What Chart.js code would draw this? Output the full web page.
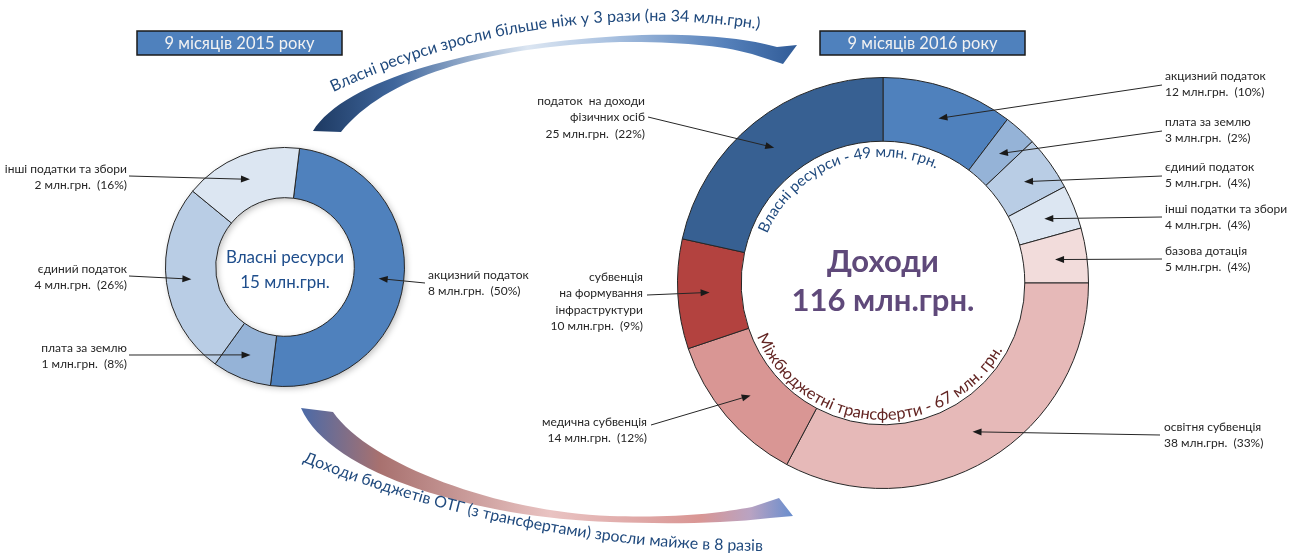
<!DOCTYPE html>
<html>
<head>
<meta charset="utf-8">
<script src="https://cdn.jsdelivr.net/npm/chart.js@4.4.0/dist/chart.umd.min.js"></script>
<style>
    body { margin: 0; background: #fff; }
    #wrap { position: relative; width: 1293px; height: 556px; }
    #wrap canvas { position: absolute; left: 0; top: 0; }
</style>
</head>
<body>
<div id="wrap">
    <canvas id="chart-2015" width="1293" height="556"></canvas>
    <canvas id="chart-2016" width="1293" height="556"></canvas>
</div>
<script>
// Data
const periods = ['9 місяців 2015 року', '9 місяців 2016 року'];

const categories2015 = ['акцизний податок', 'плата за землю', 'єдиний податок', 'інші податки та збори'];
const amounts2015 = [8, 1, 4, 2];
const shares2015 = [50, 8, 26, 16];
const ownResources2015 = 15;

const categories2016 = [
    'акцизний податок', 'плата за землю', 'єдиний податок', 'інші податки та збори',
    'базова дотація', 'освітня субвенція', 'медична субвенція',
    'субвенція\nна формування\nінфраструктури', 'податок  на доходи\nфізичних осіб'
];
const amounts2016 = [12, 3, 5, 4, 5, 38, 14, 10, 25];
const shares2016 = [10, 2, 4, 4, 4, 33, 12, 9, 22];
const ownResources2016 = 49;
const transfers2016 = 67;
const totalIncome2016 = 116;

const ownGrowth = 'Власні ресурси зросли більше ніж у 3 рази (на 34 млн.грн.)';
const incomeGrowth = 'Доходи бюджетів ОТГ (з трансфертами) зросли майже в 8 разів';

// Styles / layout
const colors2015 = ['#4F81BD', '#95B3D7', '#B9CDE5', '#DCE6F2'];
const colors2016 = ['#4F81BD', '#95B3D7', '#B9CDE5', '#DCE6F2', '#F2DCDB', '#E6B9B8', '#D99694', '#B3423F', '#376092'];
const FONT = 'Lato, "Open Sans", sans-serif';
const LABEL_COLOR = '#262626';

// text anchor (first line), alignment and where the leader line starts
const layout2015 = [
    { x: 428, y: 275, align: 'left', sx: 425, sy: 283 },
    { x: 127, y: 348, align: 'right', sx: 129, sy: 355 },
    { x: 127, y: 269, align: 'right', sx: 129, sy: 276 },
    { x: 127, y: 169, align: 'right', sx: 129, sy: 176 }
];
const layout2016 = [
    { x: 1165, y: 76, align: 'left', sx: 1162, sy: 85 },
    { x: 1165, y: 122, align: 'left', sx: 1162, sy: 131 },
    { x: 1165, y: 167, align: 'left', sx: 1162, sy: 176 },
    { x: 1165, y: 209, align: 'left', sx: 1162, sy: 217 },
    { x: 1165, y: 251, align: 'left', sx: 1162, sy: 259 },
    { x: 1164, y: 427, align: 'left', sx: 1160, sy: 435 },
    { x: 647, y: 422, align: 'right', sx: 651, sy: 425 },
    { x: 643, y: 277, align: 'right', sx: 647, sy: 295 },
    { x: 645, y: 101, align: 'right', sx: 648, sy: 117 }
];

function arrowLine(ctx, x1, y1, x2, y2) {
    const a = Math.atan2(y2 - y1, x2 - x1);
    ctx.strokeStyle = '#262626';
    ctx.fillStyle = '#1a1a1a';
    ctx.lineWidth = 1;
    ctx.beginPath();
    ctx.moveTo(x1, y1);
    ctx.lineTo(x2 - 6 * Math.cos(a), y2 - 6 * Math.sin(a));
    ctx.stroke();
    ctx.save();
    ctx.translate(x2, y2);
    ctx.rotate(a);
    ctx.beginPath();
    ctx.moveTo(0, 0);
    ctx.lineTo(-9, -3.5);
    ctx.lineTo(-9, 3.5);
    ctx.closePath();
    ctx.fill();
    ctx.restore();
}

// draws the labels with leader lines that end on each arc
function segmentLabels(categories, amounts, shares, layout) {
    return {
        id: 'segmentLabels',
        afterDatasetsDraw(chart) {
            const ctx = chart.ctx;
            const arcs = chart.getDatasetMeta(0).data;
            ctx.save();
            arcs.forEach((arc, i) => {
                const p = arc.tooltipPosition();
                const l = layout[i];
                arrowLine(ctx, l.sx, l.sy, p.x, p.y);
                const lines = categories[i].split('\n');
                lines.push(`${amounts[i]} млн.грн.  (${shares[i]}%)`);
                ctx.font = `12px ${FONT}`;
                ctx.fillStyle = LABEL_COLOR;
                ctx.textAlign = l.align;
                ctx.textBaseline = 'middle';
                lines.forEach((t, k) => ctx.fillText(t, l.x, l.y + k * 16.5));
            });
            ctx.restore();
        }
    };
}

// soft shadow under the ring, like in the original
const ringShadow = {
    id: 'ringShadow',
    beforeDatasetsDraw(chart) {
        const arc = chart.getDatasetMeta(0).data[0];
        const ctx = chart.ctx;
        ctx.save();
        ctx.shadowColor = 'rgba(0,0,0,0.25)';
        ctx.shadowBlur = 6;
        ctx.shadowOffsetX = 2;
        ctx.shadowOffsetY = 2;
        ctx.fillStyle = '#fff';
        ctx.beginPath();
        ctx.arc(arc.x, arc.y, arc.outerRadius, 0, Math.PI * 2);
        ctx.arc(arc.x, arc.y, arc.innerRadius, 0, Math.PI * 2, true);
        ctx.fill();
        ctx.restore();
    }
};

// text along a circle. mode 'top': runs clockwise, angle from 12 o'clock.
// mode 'bottom': runs left to right under the centre, angle from 6 o'clock.
function arcText(ctx, text, cx, cy, r, fromDeg, toDeg, mode, weight) {
    const span = (toDeg - fromDeg) * Math.PI / 180 * r;
    let size = 16;
    ctx.font = `${weight || ''} ${size}px ${FONT}`;
    let total = 0;
    for (const ch of text) total += ctx.measureText(ch).width;
    size = size * span / total;
    ctx.font = `${weight || ''} ${size}px ${FONT}`;
    ctx.textAlign = 'center';
    ctx.textBaseline = 'alphabetic';
    let a = fromDeg * Math.PI / 180;
    for (const ch of text) {
        const w = ctx.measureText(ch).width;
        const m = a + w / 2 / r;
        ctx.save();
        if (mode === 'top') {
            ctx.translate(cx + r * Math.sin(m), cy - r * Math.cos(m));
            ctx.rotate(m);
        } else {
            ctx.translate(cx + r * Math.sin(m), cy + r * Math.cos(m));
            ctx.rotate(-m);
        }
        ctx.fillText(ch, 0, 0);
        ctx.restore();
        a += w / r;
    }
}

function header(ctx, text, x, y, w, h) {
    ctx.fillStyle = '#4F81BD';
    ctx.fillRect(x, y, w, h);
    ctx.strokeStyle = '#1a1a1a';
    ctx.lineWidth = 1.5;
    ctx.strokeRect(x, y, w, h);
    ctx.fillStyle = '#F2F2F2';
    ctx.font = `16.5px ${FONT}`;
    ctx.textAlign = 'center';
    ctx.textBaseline = 'middle';
    ctx.fillText(text, x + w / 2, y + h / 2 + 1);
}

const decorations = {
    id: 'decorations',
    afterDraw(chart) {
        const ctx = chart.ctx;
        ctx.save();
        header(ctx, periods[0], 137, 31, 205, 24);
        header(ctx, periods[1], 820, 31, 205, 24);

        // top swoosh (blue)
        let g = ctx.createLinearGradient(305, 0, 800, 0);
        g.addColorStop(0, '#1A355C');
        g.addColorStop(0.18, '#3F669C');
        g.addColorStop(0.45, '#DCE6F2');
        g.addColorStop(0.62, '#A9C1E0');
        g.addColorStop(0.85, '#5580BA');
        g.addColorStop(1, '#2F5A96');
        ctx.fillStyle = g;
        ctx.beginPath();
        ctx.moveTo(313, 131);
        ctx.bezierCurveTo(345, 80, 470, 45, 620, 36);
        ctx.bezierCurveTo(690, 32, 745, 38, 777, 47);
        ctx.lineTo(797, 45);
        ctx.lineTo(783, 64);
        ctx.lineTo(752, 54);
        ctx.bezierCurveTo(720, 45, 680, 42, 620, 42);
        ctx.bezierCurveTo(480, 47, 385, 78, 341, 132);
        ctx.closePath();
        ctx.fill();

        // bottom swoosh (blue -> red -> blue)
        g = ctx.createLinearGradient(300, 0, 800, 0);
        g.addColorStop(0, '#4A6AA8');
        g.addColorStop(0.16, '#A8716F');
        g.addColorStop(0.5, '#E9C3C2');
        g.addColorStop(0.8, '#D99694');
        g.addColorStop(0.9, '#B9A3C2');
        g.addColorStop(1, '#5B8AD0');
        ctx.fillStyle = g;
        ctx.beginPath();
        ctx.moveTo(301, 408);
        ctx.lineTo(333, 412);
        ctx.bezierCurveTo(370, 465, 500, 512, 610, 516);
        ctx.bezierCurveTo(680, 518, 720, 513, 752, 507);
        ctx.lineTo(779, 498);
        ctx.lineTo(793, 516);
        ctx.lineTo(770, 518);
        ctx.bezierCurveTo(720, 524, 660, 524, 610, 522);
        ctx.bezierCurveTo(480, 518, 330, 475, 301, 408);
        ctx.closePath();
        ctx.fill();

        ctx.fillStyle = '#1F497D';
        arcText(ctx, ownGrowth, 650, 762, 741, -25.3, 8.5, 'top');
        arcText(ctx, incomeGrowth, 770, -719, 1270, -21.6, -0.3, 'bottom');
        ctx.restore();
    }
};

const centre2015 = {
    id: 'centre2015',
    afterDraw(chart) {
        const ctx = chart.ctx;
        const arc = chart.getDatasetMeta(0).data[0];
        ctx.save();
        ctx.fillStyle = '#1F4E8C';
        ctx.font = `17px ${FONT}`;
        ctx.textAlign = 'center';
        ctx.textBaseline = 'middle';
        ctx.fillText('Власні ресурси', arc.x, arc.y - 9);
        ctx.fillText(`${ownResources2015} млн.грн.`, arc.x, arc.y + 16);
        ctx.restore();
    }
};

const centre2016 = {
    id: 'centre2016',
    afterDraw(chart) {
        const ctx = chart.ctx;
        const arc = chart.getDatasetMeta(0).data[0];
        ctx.save();
        ctx.fillStyle = '#5F497A';
        ctx.font = `bold 31px ${FONT}`;
        ctx.textAlign = 'center';
        ctx.textBaseline = 'middle';
        ctx.fillText('Доходи', arc.x, arc.y - 21);
        ctx.fillText(`${totalIncome2016} млн.грн.`, arc.x, arc.y + 18);
        ctx.fillStyle = '#1F497D';
        arcText(ctx, `Власні ресурси - ${ownResources2016} млн. грн.`, arc.x, arc.y, 126, -67, 25, 'top');
        ctx.fillStyle = '#632523';
        arcText(ctx, `Міжбюджетні трансферти - ${transfers2016} млн. грн.`, arc.x, arc.y, 137, -67, 61, 'bottom');
        ctx.restore();
    }
};

const baseOptions = {
    responsive: false,
    animation: false,
    devicePixelRatio: 1,
    plugins: { legend: { display: false }, tooltip: { enabled: false } },
    events: []
};

new Chart(document.getElementById('chart-2015'), {
    type: 'doughnut',
    data: {
        labels: categories2015,
        datasets: [{ data: shares2015, backgroundColor: colors2015, borderColor: '#262626', borderWidth: 1 }]
    },
    options: {
        ...baseOptions,
        cutout: '58%',
        rotation: 7,
        layout: { padding: { left: 165, right: 888, top: 147, bottom: 169 } }
    },
    plugins: [ringShadow, segmentLabels(categories2015, amounts2015, shares2015, layout2015), centre2015, decorations]
});

new Chart(document.getElementById('chart-2016'), {
    type: 'doughnut',
    data: {
        labels: categories2016,
        datasets: [{ data: amounts2016, backgroundColor: colors2016, borderColor: '#262626', borderWidth: 1 }]
    },
    options: {
        ...baseOptions,
        cutout: '69%',
        layout: { padding: { left: 677, right: 204, top: 77, bottom: 67 } }
    },
    plugins: [segmentLabels(categories2016, amounts2016, shares2016, layout2016), centre2016]
});
</script>
</body>
</html>
